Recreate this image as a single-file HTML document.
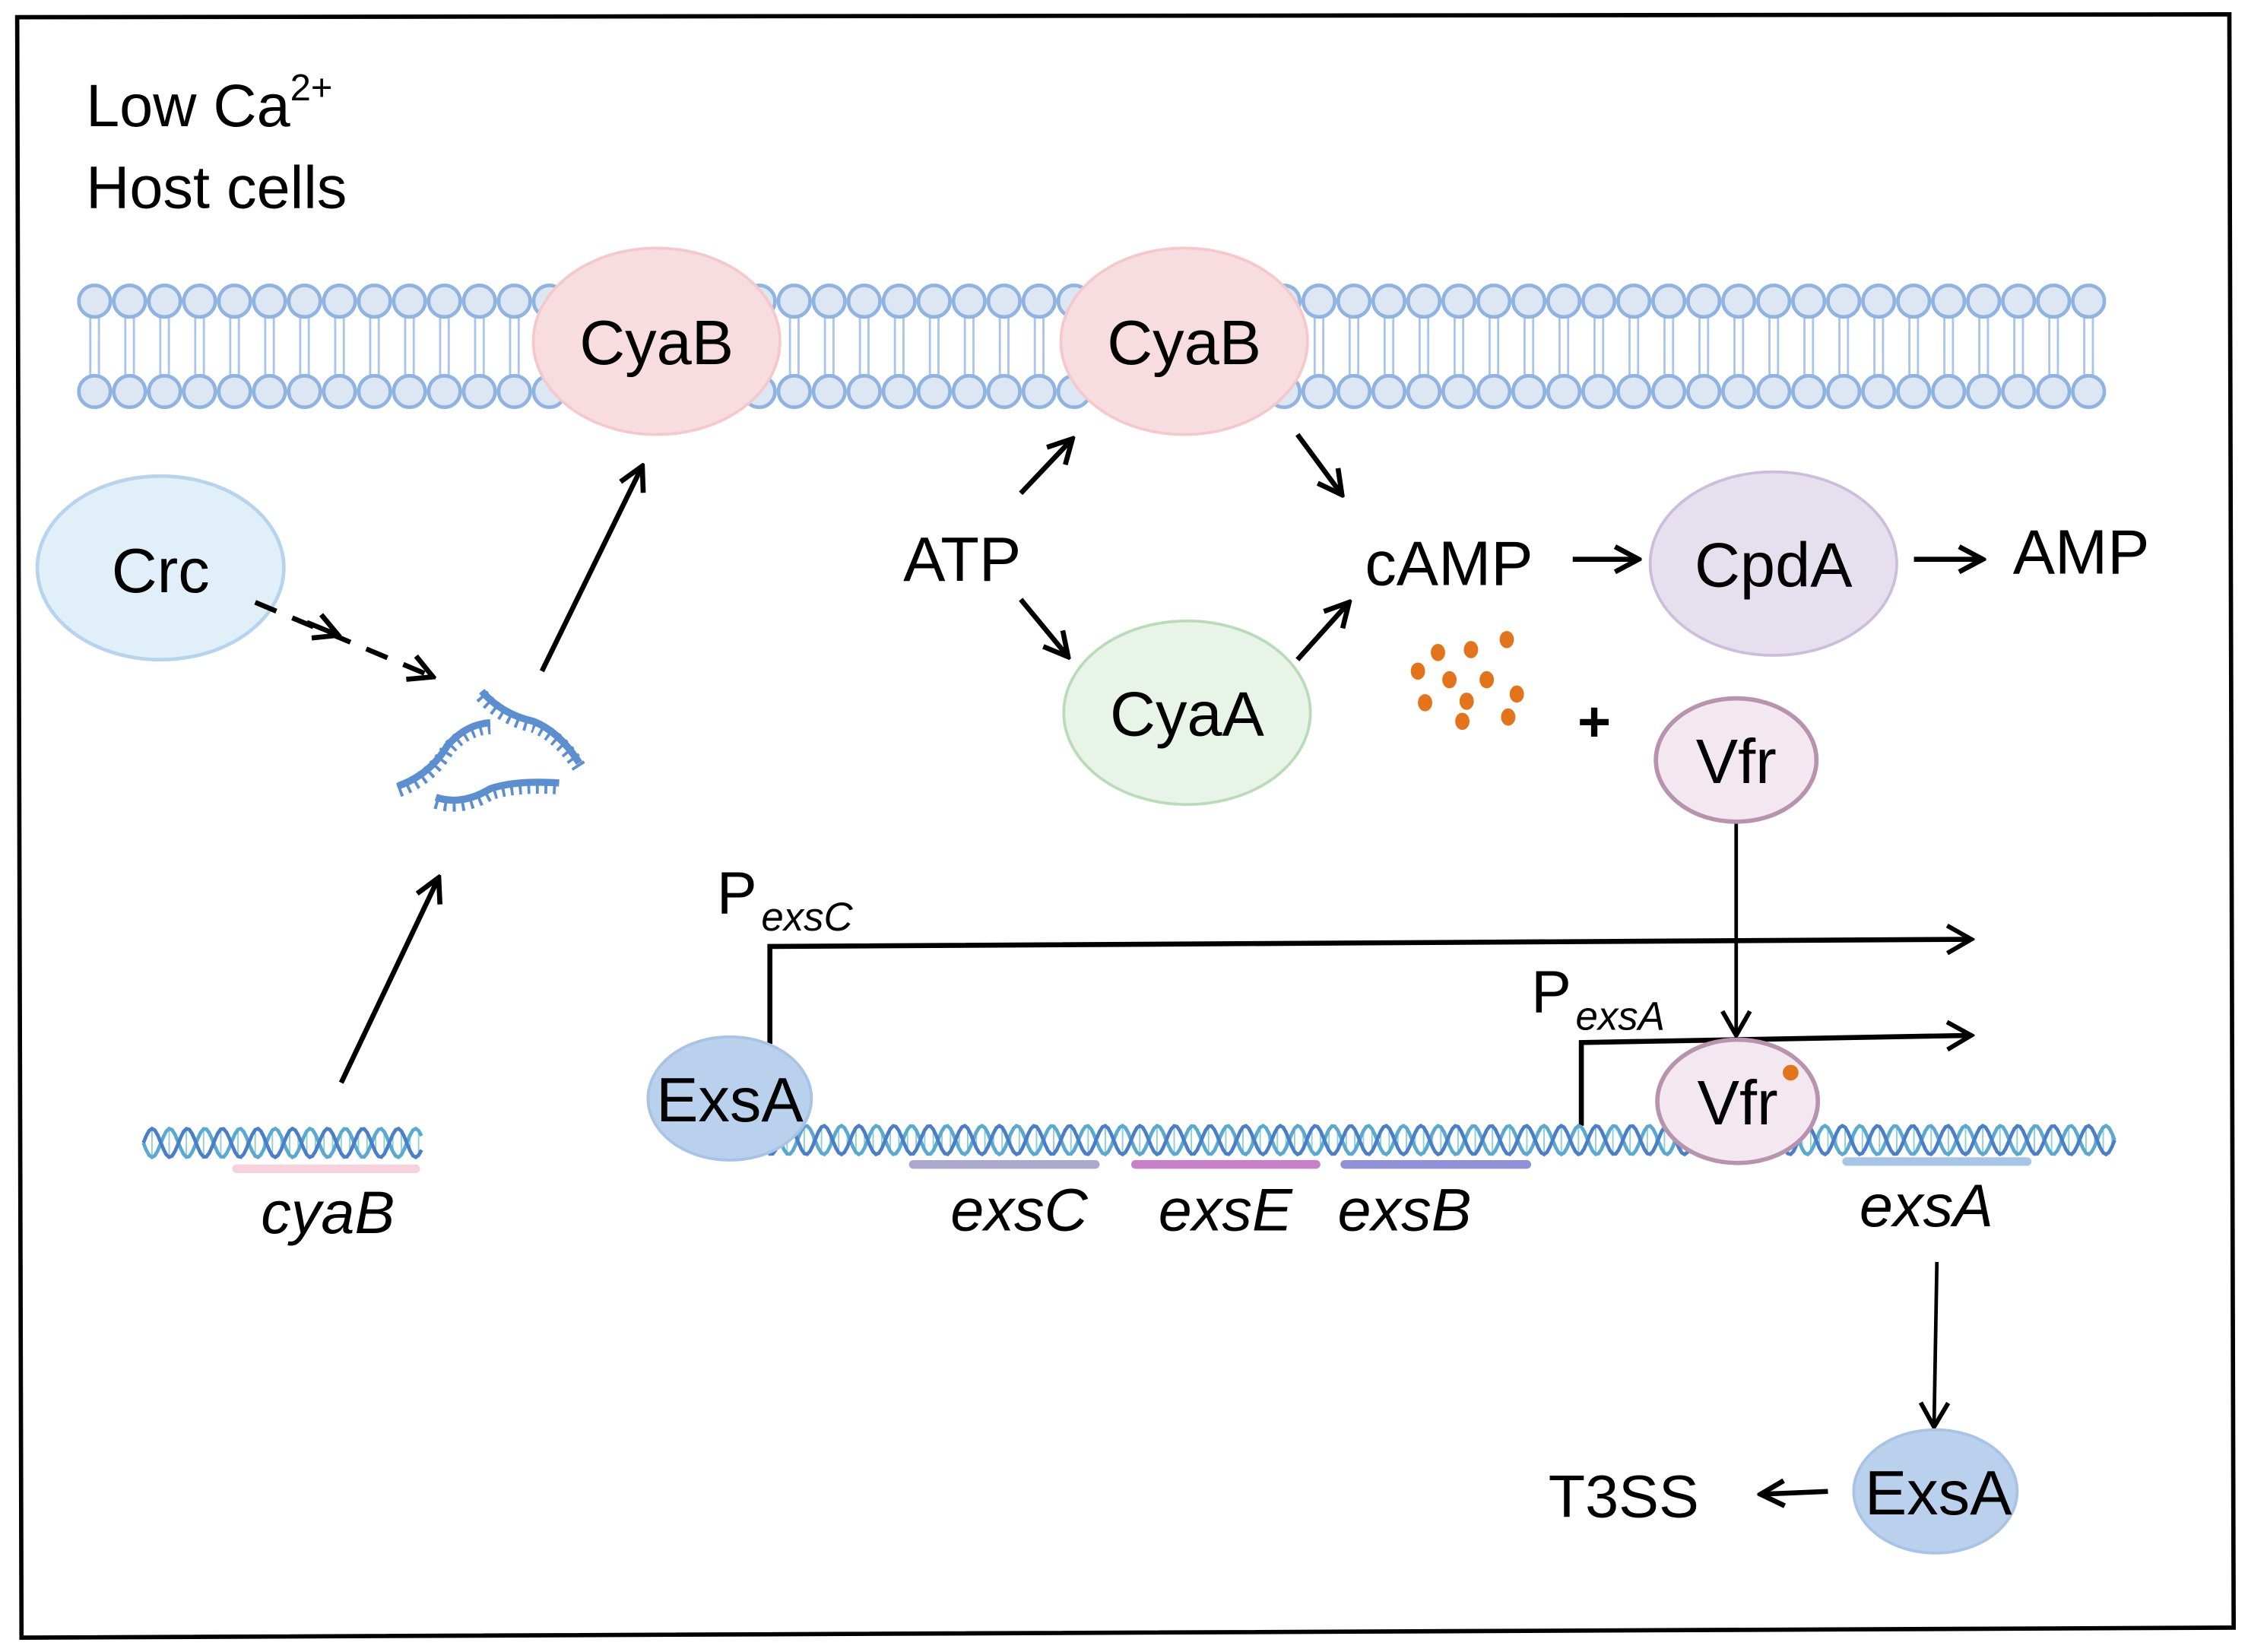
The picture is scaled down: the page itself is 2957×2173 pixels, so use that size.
<!DOCTYPE html>
<html><head><meta charset="utf-8"><style>
html,body{margin:0;padding:0;background:#fff}
svg{display:block}
text{font-family:"Liberation Sans",Arial,sans-serif;fill:#000}
</style></head><body>
<svg id="s" width="2957" height="2173" viewBox="0 0 1568 1152" preserveAspectRatio="none" xmlns="http://www.w3.org/2000/svg">
<defs>
<marker id="ah" viewBox="0 0 20 20" refX="18" refY="10" markerWidth="22" markerHeight="22" markerUnits="userSpaceOnUse" orient="auto"><path d="M3,2 L18,10 L3,18" fill="none" stroke="#000" stroke-width="3.2"/></marker>
<marker id="ahb" viewBox="0 0 20 20" refX="18" refY="10" markerWidth="24" markerHeight="24" markerUnits="userSpaceOnUse" orient="auto"><path d="M4,2 L18,10 L4,18" fill="none" stroke="#000" stroke-width="2.6"/></marker>
</defs>
<polygon points="12,12 1555,10 1558,1135 15,1142" fill="none" stroke="#000" stroke-width="3"/>
<text x="60" y="88" font-size="42">Low Ca<tspan font-size="26" dy="-18">2+</tspan></text>
<text x="60" y="145" font-size="42">Host cells</text>
<g id="mem"></g>
<ellipse cx="458" cy="238" rx="86" ry="65" fill="#f7dde0" stroke="#f5c8cc" stroke-width="2"/>
<text x="458" y="254" font-size="44" text-anchor="middle">CyaB</text>
<ellipse cx="826" cy="238" rx="86" ry="65" fill="#f7dde0" stroke="#f5c8cc" stroke-width="2"/>
<text x="826" y="254" font-size="44" text-anchor="middle">CyaB</text>
<ellipse cx="112" cy="396" rx="86" ry="64" fill="#e1f0f8" stroke="#b6d4ee" stroke-width="2.5"/>
<text x="112" y="413" font-size="44" text-anchor="middle">Crc</text>
<g stroke="#000" stroke-width="3.5" fill="none">
<path d="M178,420 L302,472" stroke-dasharray="16,12" marker-end="url(#ah)"/>
<path d="M214,434 L236,443" marker-end="url(#ah)"/>
<path d="M378,468 L448,325" marker-end="url(#ah)"/>
<path d="M238,755 L306,612" marker-end="url(#ah)"/>
<path d="M712,344 L748,306" marker-end="url(#ah)"/>
<path d="M712,418 L745,458" marker-end="url(#ah)"/>
<path d="M905,303 L936,345" marker-end="url(#ah)"/>
<path d="M905,460 L941,420" marker-end="url(#ah)"/>
<path d="M1097,390 L1143,390" marker-end="url(#ah)"/>
<path d="M1335,390 L1383,390" marker-end="url(#ah)"/>
<path d="M1275,1040 L1228,1042" marker-end="url(#ah)"/>
</g>
<g stroke="#000" stroke-width="2.5" fill="none">
<path d="M1211,573 L1211,722" marker-end="url(#ahb)"/>
<path d="M1351,880 L1349,995" marker-end="url(#ahb)"/>
<path d="M537,728 L537,660 L1375,655" stroke-width="3.5" marker-end="url(#ahb)"/>
<path d="M1103,785 L1103,727 L1375,722" stroke-width="3.5" marker-end="url(#ahb)"/>
</g>
<g id="rna" stroke="#5b8fcf" fill="none"></g>
<g id="dna"></g>
<rect x="162" y="812" width="131" height="6" rx="3" fill="#f6d3da"/>
<rect x="634" y="809" width="133" height="6" rx="3" fill="#aaa8cc"/>
<rect x="789" y="809" width="132" height="6" rx="3" fill="#c87fc9"/>
<rect x="935" y="809" width="133" height="6" rx="3" fill="#8f90d8"/>
<rect x="1285" y="807" width="132" height="6" rx="3" fill="#a9c5e6"/>
<text x="182" y="860" font-size="42" font-style="italic">cyaB</text>
<text x="663" y="858" font-size="42" font-style="italic">exsC</text>
<text x="808" y="858" font-size="42" font-style="italic">exsE</text>
<text x="933" y="858" font-size="42" font-style="italic">exsB</text>
<text x="1297" y="855" font-size="42" font-style="italic">exsA</text>
<text x="630" y="405" font-size="44">ATP</text>
<ellipse cx="828" cy="497" rx="86" ry="64" fill="#e9f4e8" stroke="#b9dcb8" stroke-width="2"/>
<text x="828" y="513" font-size="44" text-anchor="middle">CyaA</text>
<text x="952" y="408" font-size="44">cAMP</text>
<ellipse cx="1237" cy="393" rx="86" ry="64" fill="#e6e0ee" stroke="#ccbedb" stroke-width="2"/>
<text x="1237" y="409" font-size="44" text-anchor="middle">CpdA</text>
<text x="1404" y="400" font-size="44">AMP</text>
<g fill="#e4741b">
<ellipse cx="1003" cy="455" rx="5" ry="6"/><ellipse cx="1026" cy="453" rx="5" ry="6"/><ellipse cx="1051" cy="446" rx="5" ry="6"/>
<ellipse cx="989" cy="468" rx="5" ry="6"/><ellipse cx="1011" cy="474" rx="5" ry="6"/><ellipse cx="1037" cy="474" rx="5" ry="6"/>
<ellipse cx="994" cy="490" rx="5" ry="6"/><ellipse cx="1023" cy="489" rx="5" ry="6"/><ellipse cx="1058" cy="484" rx="5" ry="6"/>
<ellipse cx="1020" cy="503" rx="5" ry="6"/><ellipse cx="1052" cy="500" rx="5" ry="6"/>
</g>
<text x="1112" y="517" font-size="40" font-weight="bold" text-anchor="middle">+</text>
<ellipse cx="1211" cy="530" rx="56" ry="43" fill="#f3e7f0" stroke="#b893ae" stroke-width="3"/>
<text x="1211" y="546" font-size="44" text-anchor="middle">Vfr</text>
<text x="500" y="637" font-size="42">P</text><text x="531" y="649" font-size="28" font-style="italic">exsC</text>
<text x="1068" y="706" font-size="42">P</text><text x="1099" y="718" font-size="28" font-style="italic">exsA</text>
<ellipse cx="509" cy="766" rx="57" ry="43" fill="#b9d1ec" stroke="#a8c3e5" stroke-width="2"/>
<text x="509" y="782" font-size="44" text-anchor="middle">ExsA</text>
<ellipse cx="1212" cy="768" rx="56" ry="43" fill="#f3e7f0" stroke="#b893ae" stroke-width="3"/>
<text x="1212" y="784" font-size="44" text-anchor="middle">Vfr</text>
<circle cx="1249" cy="748" r="5.5" fill="#e4741b"/>
<ellipse cx="1350" cy="1040" rx="57" ry="43" fill="#b9d1ec" stroke="#a8c3e5" stroke-width="2"/>
<text x="1352" y="1056" font-size="44" text-anchor="middle">ExsA</text>
<text x="1080" y="1058" font-size="42">T3SS</text>
</svg>
<script>
var NS="http://www.w3.org/2000/svg";
function el(p,t,a){var e=document.createElementNS(NS,t);for(var k in a)e.setAttribute(k,a[k]);p.appendChild(e);return e;}
var m=document.getElementById("mem");
for(var i=0;i<58;i++){var x=66+i*24.4;
 el(m,"line",{x1:x-3,y1:220,x2:x-3,y2:262,stroke:"#a9c6ea","stroke-width":1.5});
 el(m,"line",{x1:x+3,y1:220,x2:x+3,y2:262,stroke:"#a9c6ea","stroke-width":1.5});
 el(m,"circle",{cx:x,cy:210,r:11,fill:"#dde6f3",stroke:"#8fb4e2","stroke-width":2.5});
 el(m,"circle",{cx:x,cy:273,r:11,fill:"#dde6f3",stroke:"#8fb4e2","stroke-width":2.5});}
var d=document.getElementById("dna");
function helix(x0,x1,y,amp){var p1="",p2="";for(var x=x0;x<=x1;x+=2){var a=(x-x0)/24.5*2*Math.PI;
 p1+=(x==x0?"M":"L")+x+","+(y+amp*Math.sin(a));p2+=(x==x0?"M":"L")+x+","+(y-amp*Math.sin(a));
 if((x-x0)%6==0)el(d,"line",{x1:x,y1:y+amp*Math.sin(a),x2:x,y2:y-amp*Math.sin(a),stroke:"#8fd0d8","stroke-width":1});}
 el(d,"path",{d:p1,fill:"none",stroke:"#5aa9d0","stroke-width":2.5});el(d,"path",{d:p2,fill:"none",stroke:"#4a7fc8","stroke-width":2.5});}
helix(100,295,797,10);helix(495,1475,795,10);
var r=document.getElementById("rna");
[["M278,548 Q300,540 312,520 Q325,505 342,504",1],["M336,482 Q350,498 372,503 Q390,510 404,532",1],["M304,556 Q322,562 342,550 Q360,544 390,546",1]].forEach(function(s){
 el(r,"path",{d:s[0],"stroke-width":5});el(r,"path",{d:s[0],"stroke-width":10,"stroke-dasharray":"2,4",transform:"translate(0,3)"});});
</script>
</body></html>
